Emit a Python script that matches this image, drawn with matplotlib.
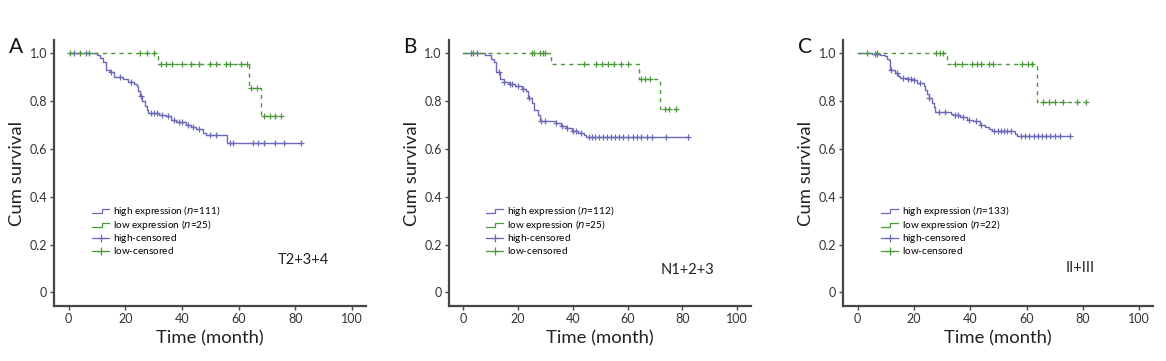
import numpy as np
import matplotlib
matplotlib.use("Agg")
import matplotlib.pyplot as plt
from matplotlib.legend_handler import HandlerBase
from matplotlib.lines import Line2D

plt.rcParams['font.family'] = ['Lato', 'DejaVu Sans']

BLUE = "#6a6ab8"
GREEN = "#4a9a3a"
AXIS = "#4a4444"

# ---- panel A (T2+3+4) ----
a_hi_t = [10, 11, 12, 13, 14.5, 16, 19, 21, 23, 24, 24.5, 25, 26, 27, 27.5, 28,
          32, 34.5, 36, 38, 41.5, 43, 45, 47.5, 48.5, 56]
a_hi_s = [0.99, 0.98, 0.96, 0.93, 0.92, 0.90, 0.89, 0.88, 0.87, 0.86, 0.84, 0.82,
          0.80, 0.78, 0.76, 0.75, 0.74, 0.735, 0.72, 0.71, 0.70, 0.69, 0.68, 0.665,
          0.655, 0.625]
a_hi_end = 82
a_hi_cens = [2, 6, 15, 18, 22, 25.5, 29, 30, 31, 33, 35, 37, 39, 40, 42, 44, 46,
             50, 52, 57, 58, 65, 67, 69, 73, 76, 82]
a_lo_t = [31.5, 63.5, 68]
a_lo_s = [0.955, 0.855, 0.735]
a_lo_end = 75
a_lo_cens = [0.5, 4, 7, 25, 27.5, 30, 32.5, 34.5, 36.5, 40, 43, 46, 50, 52, 55.5,
             57, 61, 63, 64.5, 66.5, 69, 71, 73, 75]

# ---- panel B (N1+2+3) ----
b_hi_t = [8, 10, 11.3, 12, 13.6, 14.8, 16.6, 19, 21.4, 23, 23.7, 25, 26, 27.3, 28,
          33.8, 35.6, 37.4, 39.7, 42, 44, 45]
b_hi_s = [0.99, 0.975, 0.96, 0.92, 0.89, 0.88, 0.87, 0.86, 0.85, 0.84, 0.81, 0.79,
          0.76, 0.74, 0.715, 0.705, 0.695, 0.685, 0.675, 0.665, 0.655, 0.648]
b_hi_end = 82
b_hi_cens = [3, 5, 13, 15, 17, 18, 20, 22, 24, 28.5, 30, 34, 36, 38, 40, 41, 43, 46,
             47, 48, 49.5, 51, 52.5, 54, 55.5, 57, 58.5, 60, 62, 63.5, 65, 67, 69,
             74, 82]
b_lo_t = [32, 64, 71.8]
b_lo_s = [0.955, 0.89, 0.765]
b_lo_end = 77.5
b_lo_cens = [3.6, 25, 26, 28, 29, 30, 44, 48.5, 50.5, 53, 55, 57.5, 60, 65, 66.5,
             68, 73.5, 75, 77.5]

# ---- panel C (II+III) ----
c_hi_t = [5, 8, 9.7, 10.3, 11, 11.5, 13.3, 14.5, 15, 17.5, 19.8, 21, 23.4, 24, 24.6,
          25.2, 26.4, 27, 27.6, 33, 34, 36.5, 38.8, 41, 43.6, 45.4, 46.6, 47.7, 56,
          56.7]
c_hi_s = [0.995, 0.99, 0.985, 0.975, 0.97, 0.93, 0.915, 0.905, 0.895, 0.89, 0.885,
          0.875, 0.86, 0.845, 0.83, 0.81, 0.79, 0.775, 0.752, 0.745, 0.74, 0.73,
          0.72, 0.715, 0.70, 0.69, 0.68, 0.672, 0.66, 0.652]
c_hi_end = 75.5
c_hi_cens = [6, 7, 12, 14, 16, 18, 19, 20, 22, 25.5, 29, 31, 34.5, 35.5, 37.5, 39.5,
             42, 44, 48.5, 50, 51, 52, 53, 54.5, 58, 59.5, 61, 62.5, 64, 65.5, 67,
             68.5, 70, 72, 75.5]
c_lo_t = [31.7, 63.8]
c_lo_s = [0.952, 0.796]
c_lo_end = 81
c_lo_cens = [3.2, 6.8, 28, 29.3, 30.5, 34.7, 37, 40.5, 42.5, 44, 46.5, 48, 58.5,
             60.5, 62, 66, 68, 70, 73, 78, 81]

panels = [
    ("A", "T2+3+4", 111, 25, (a_hi_t, a_hi_s, a_hi_end, a_hi_cens),
     (a_lo_t, a_lo_s, a_lo_end, a_lo_cens), (83, 0.135)),
    ("B", "N1+2+3", 112, 25, (b_hi_t, b_hi_s, b_hi_end, b_hi_cens),
     (b_lo_t, b_lo_s, b_lo_end, b_lo_cens), (82, 0.095)),
    ("C", "II+III", 133, 22, (c_hi_t, c_hi_s, c_hi_end, c_hi_cens),
     (c_lo_t, c_lo_s, c_lo_end, c_lo_cens), (79, 0.10)),
]
ax_boxes = [0.0463, 0.385, 0.723]
ax_widths = [0.2677, 0.259, 0.266]


def step_value(times, surv, t):
    # survival at time t (right-continuous step function)
    idx = np.searchsorted(np.asarray(times), t, side="right")
    return 1.0 if idx == 0 else surv[idx - 1]


def draw_curve(ax, data, color, ls):
    times, surv, end, cens = data
    xs = [0] + list(times) + [end]
    ys = [1.0] + list(surv) + [surv[-1]]
    ax.step(xs, ys, where="post", color=color, lw=1.0, ls=ls)
    cy = [step_value(times, surv, c) for c in cens]
    ax.plot(cens, cy, ls="none", marker="+", ms=4.5, mew=0.9, color=color)


class StepHandler(HandlerBase):
    def create_artists(self, legend, orig_handle, xdescent, ydescent, width,
                       height, fontsize, trans):
        xs = [0, width * 0.55, width * 0.55, width]
        ys = [height * 0.2, height * 0.2, height * 0.75, height * 0.75]
        ln = Line2D(xs, ys, color=orig_handle.get_color(), lw=0.9,
                    transform=trans)
        return [ln]


class CrossHandler(HandlerBase):
    def create_artists(self, legend, orig_handle, xdescent, ydescent, width,
                       height, fontsize, trans):
        ln = Line2D([0, width], [height * 0.45, height * 0.45],
                    color=orig_handle.get_color(), lw=0.9, transform=trans)
        mk = Line2D([width * 0.5], [height * 0.45], marker="+", ms=6,
                    mew=0.9, color=orig_handle.get_color(), transform=trans)
        return [ln, mk]


class StepKey(Line2D):
    pass


class CrossKey(Line2D):
    pass


fig = plt.figure(figsize=(11.66, 3.61), dpi=100)

for i, (letter, tag, n_hi, n_lo, hi, lo, tpos) in enumerate(panels):
    ax = fig.add_axes([ax_boxes[i], 0.152, ax_widths[i], 0.737])
    draw_curve(ax, hi, BLUE, "-")
    draw_curve(ax, lo, GREEN, (0, (3, 3)))

    ax.set_xlim(-5.2, 105)
    ax.set_ylim(-0.057, 1.053)
    ax.set_xticks([0, 20, 40, 60, 80, 100])
    ax.set_yticks([0, 0.2, 0.4, 0.6, 0.8, 1.0])
    ax.set_yticklabels(["0", "0.2", "0.4", "0.6", "0.8", "1.0"])
    for s in ["top", "right"]:
        ax.spines[s].set_visible(False)
    for s in ["left", "bottom"]:
        ax.spines[s].set_color(AXIS)
        ax.spines[s].set_linewidth(1.6)
    ax.tick_params(direction="out", length=3, width=1, color=AXIS,
                   labelsize=9, labelcolor="#333333", pad=2)
    ax.set_xlabel("Time (month)", fontsize=13.3, color="#222222", labelpad=4)
    ax.set_ylabel("Cum survival", fontsize=13.3, color="#222222", labelpad=3)

    ax.text(tpos[0], tpos[1], tag, fontsize=10.5, color="#222222",
            ha="center", va="center")

    handles = [StepKey([], [], color=BLUE), StepKey([], [], color=GREEN),
               CrossKey([], [], color=BLUE), CrossKey([], [], color=GREEN)]
    labels = [f"high expression ($n$={n_hi})", f"low expression ($n$={n_lo})",
              "high-censored$\\,$", "low-censored$\\,$"]
    ax.legend(handles, labels, loc="upper left", bbox_to_anchor=(0.1, 0.41),
              frameon=False, fontsize=7.2, handlelength=1.7, handletextpad=0.4,
              labelspacing=0.0, borderpad=0.2,
              handler_map={StepKey: StepHandler(), CrossKey: CrossHandler()})

    fig.text(ax_boxes[i] - 0.039, 0.87, letter, fontsize=15, color="#111111",
             ha="left", va="center")

fig.savefig("out.png", dpi=100)
